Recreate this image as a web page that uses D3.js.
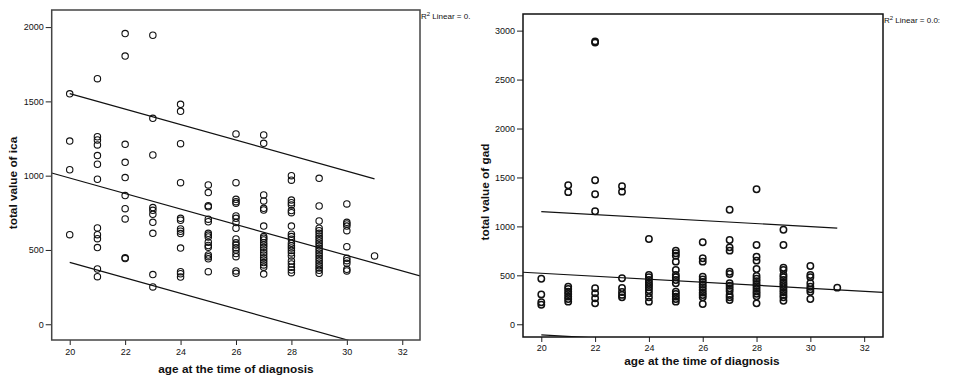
<!DOCTYPE html>
<html>
<head>
<meta charset="utf-8">
<script src="https://cdn.jsdelivr.net/npm/d3@7"></script>
<style>
  body { margin: 0; background: #fff; }
  svg { display: block; font-family: Arial, "Liberation Sans", sans-serif; }
  .tick text { font-size: 9px; fill: #111; }
  .tick line { stroke: #222; }
  .title { font-size: 11.8px; font-weight: bold; fill: #111; }
</style>
</head>
<body>
<svg width="958" height="384"></svg>
<script>
// ages on the x axis (one column of points per age)
const ages = [20, 21, 22, 23, 24, 25, 26, 27, 28, 29, 30, 31];

// total value of ica, one list per age
const icaValues = [
  [1551, 1233, 1040, 603],
  [1653, 1262, 1240, 1207, 1135, 1077, 976, 648, 603, 576, 516, 372, 320],
  [1956, 1805, 1211, 1090, 987, 866, 778, 709, 448, 442],
  [1945, 1386, 1139, 785, 767, 740, 686, 612, 334, 251],
  [1480, 1433, 1215, 953, 713, 700, 641, 626, 610, 513, 354, 340, 318],
  [938, 886, 798, 790, 707, 690, 612, 600, 588, 552, 530, 518, 466, 455, 440, 354],
  [1281, 953, 841, 825, 814, 729, 713, 684, 646, 574, 548, 533, 515, 500, 476, 455, 359, 343],
  [1274, 1218, 870, 830, 780, 769, 661, 590, 579, 567, 549, 534, 518, 500, 482, 466, 448, 433, 415, 399, 384, 338],
  [1000, 970, 836, 818, 803, 765, 751, 661, 606, 590, 572, 545, 528, 514, 497, 480, 460, 426, 406, 384, 365, 347],
  [982, 796, 695, 646, 630, 612, 594, 578, 562, 545, 528, 511, 495, 478, 461, 444, 428, 411, 394, 379, 363, 343],
  [810, 686, 675, 661, 630, 522, 444, 428, 410, 370, 359],
  [460]
];

// total value of gad, one list per age
const gadValues = [
  [465, 305, 225, 200],
  [1420, 1350, 384, 360, 333, 309, 282, 258, 231],
  [2890, 2878, 1471, 1328, 1154, 368, 317, 266, 214],
  [1410, 1355, 470, 370, 330, 300, 275],
  [871, 504, 480, 452, 425, 401, 378, 350, 317, 276, 231],
  [752, 725, 700, 640, 555, 504, 480, 452, 419, 333, 309, 282, 258, 231],
  [838, 675, 640, 486, 459, 432, 404, 378, 350, 323, 299, 275, 207],
  [1170, 861, 786, 752, 537, 514, 419, 394, 367, 340, 299, 276, 248],
  [1380, 810, 690, 650, 565, 493, 466, 441, 413, 390, 364, 336, 312, 286, 214],
  [965, 810, 578, 555, 504, 480, 452, 425, 401, 378, 350, 326, 299, 275, 241],
  [595, 504, 480, 419, 384, 357, 333, 258],
  [374]
];

// linear fits: [value at age 20, slope per year], and half width of the prediction band
const icaFit = [984, -52.1];
const icaBand = 568;
const gadFit = [521, -15.3];
const gadBand = 630;

const xTicks = [20, 22, 24, 26, 28, 30, 32];
const icaTicks = [0, 500, 1000, 1500, 2000];
const gadTicks = [0, 500, 1000, 1500, 2000, 2500, 3000];

const svg = d3.select("svg");

function panel(opt) {
  const x = d3.scaleLinear().domain(opt.xDomain).range(opt.xRange);
  const y = d3.scaleLinear().domain(opt.yDomain).range(opt.yRange);
  const g = svg.append("g");

  g.append("clipPath").attr("id", opt.id)
    .append("rect")
    .attr("x", opt.xRange[0]).attr("y", opt.yRange[1])
    .attr("width", opt.xRange[1] - opt.xRange[0])
    .attr("height", opt.yRange[0] - opt.yRange[1]);

  // axes
  const ax = g.append("g")
    .attr("transform", `translate(0,${opt.yRange[0]})`)
    .call(d3.axisBottom(x).tickValues(xTicks).tickSize(5).tickPadding(opt.xPad));
  const ay = g.append("g")
    .attr("transform", `translate(${opt.xRange[0]},0)`)
    .call(d3.axisLeft(y).tickValues(opt.yTicks).tickFormat(d3.format("d")).tickSize(6).tickPadding(2));
  ax.select(".domain").remove();
  ay.select(".domain").remove();

  // fit line and prediction band lines
  const f = a => opt.fit[0] + opt.fit[1] * (a - 20);
  const line = d3.line().x(d => x(d[0])).y(d => y(d[1]));
  const lines = [
    [[opt.xDomain[0], f(opt.xDomain[0])], [opt.xDomain[1], f(opt.xDomain[1])]],
    [[20, f(20) + opt.band], [31, f(31) + opt.band]],
    [[20, f(20) - opt.band], [31, f(31) - opt.band]]
  ];
  g.append("g").attr("clip-path", `url(#${opt.id})`)
    .selectAll("path").data(lines).enter().append("path")
    .attr("d", line)
    .attr("fill", "none")
    .attr("stroke", "#111")
    .attr("stroke-width", 1.2);

  // points
  const pts = [];
  ages.forEach((a, i) => opt.values[i].forEach(v => pts.push([a, v])));
  g.append("g").selectAll("circle").data(pts).enter().append("circle")
    .attr("cx", d => x(d[0]))
    .attr("cy", d => y(d[1]))
    .attr("r", 3.2)
    .attr("fill", "none")
    .attr("stroke", "#111")
    .attr("stroke-width", opt.pointStroke);

  // frame
  g.append("rect")
    .attr("x", opt.xRange[0]).attr("y", opt.yRange[1])
    .attr("width", opt.xRange[1] - opt.xRange[0])
    .attr("height", opt.yRange[0] - opt.yRange[1])
    .attr("fill", "none")
    .attr("stroke", opt.frame)
    .attr("stroke-width", 1.5);

  // titles
  g.append("text").attr("class", "title")
    .attr("x", opt.xTitle[0]).attr("y", opt.xTitle[1])
    .attr("text-anchor", "middle")
    .text("age at the time of diagnosis");
  g.append("text").attr("class", "title")
    .attr("transform", `translate(${opt.yTitle[0]},${opt.yTitle[1]}) rotate(-90)`)
    .attr("text-anchor", "middle")
    .text(opt.yLabel);

  const r2 = g.append("text")
    .attr("x", opt.xRange[1] + 1).attr("y", opt.r2y)
    .attr("font-size", 8).attr("fill", "#111");
  r2.append("tspan").text("R");
  r2.append("tspan").attr("font-size", 6).attr("dy", -3).text("2");
  r2.append("tspan").attr("dy", 3).text(" Linear = " + opt.r2);
}

panel({
  id: "clipIca",
  xDomain: [19.35, 32.64], xRange: [51.7, 420],
  yDomain: [-106, 2115], yRange: [340, 10],
  yTicks: icaTicks, values: icaValues,
  fit: icaFit, band: icaBand,
  xPad: 4, pointStroke: 1.1, frame: "#444",
  xTitle: [236, 373], yTitle: [17, 183],
  yLabel: "total value of ica", r2: "0.", r2y: 19
});

panel({
  id: "clipGad",
  xDomain: [19.32, 32.7], xRange: [523, 883],
  yDomain: [-130, 3170], yRange: [337, 14],
  yTicks: gadTicks, values: gadValues,
  fit: gadFit, band: gadBand,
  xPad: 3, pointStroke: 1.5, frame: "#111",
  xTitle: [702, 365], yTitle: [489, 192],
  yLabel: "total value of gad", r2: "0.0:", r2y: 23
});
</script>
</body>
</html>
